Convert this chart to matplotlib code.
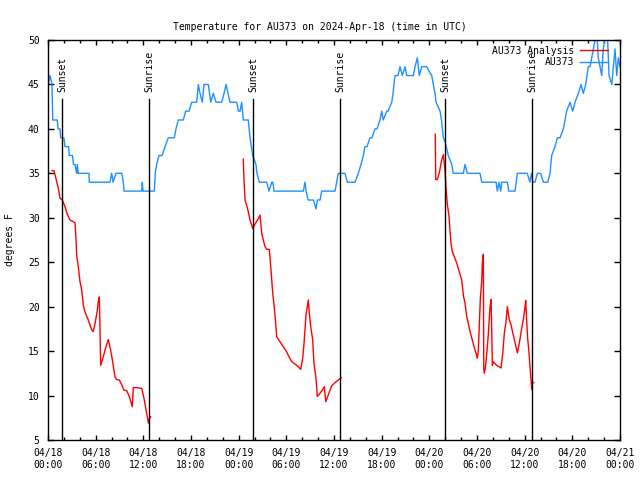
#!/usr/bin/env python3
"""Temperature for AU373 with analysis overlay, gnuplot-like look."""

import matplotlib
matplotlib.use('Agg')
import matplotlib.pyplot as plt
import matplotlib.dates as mdates
import pandas as pd

START = pd.Timestamp('2024-04-18 00:00')
END = pd.Timestamp('2024-04-21 00:00')

# observations (hours after START, degrees F)
obs_hours = [
    0.0, 0.25, 0.5, 0.6, 1.17, 1.26, 1.5, 1.6, 2.0, 2.14, 2.6, 2.68, 3.1, 3.2, 3.4,
    3.6, 3.7, 3.8, 5.16, 5.2, 7.8, 8.02, 8.19, 8.56, 9.3, 9.48, 9.57, 11.8, 11.87,
    11.96, 13.38, 13.5, 13.68, 13.97, 14.35, 14.73, 15.14, 15.9, 16.11, 16.4, 17.03,
    17.33, 17.75, 18.09, 18.72, 18.92, 19.13, 19.42, 19.64, 20.18, 20.48, 20.81,
    21.15, 21.87, 22.16, 22.41, 22.66, 22.91, 23.75, 23.96, 24.17, 24.38, 24.58,
    25.21, 25.43, 25.77, 26.18, 26.3, 26.6, 27.53, 27.82, 28.16, 28.3, 28.45, 32.14,
    32.35, 32.48, 32.73, 33.4, 33.74, 33.9, 34.24, 34.45, 36.13, 36.54, 37.39, 37.68,
    38.65, 39.06, 39.4, 39.69, 39.9, 40.15, 40.53, 40.79, 41.16, 41.41, 41.79, 42.0,
    42.2, 42.64, 42.8, 43.27, 43.43, 43.68, 44.06, 44.31, 44.6, 44.94, 45.15, 45.99,
    46.2, 46.49, 46.74, 47.04, 47.67, 47.96, 48.3, 48.5, 48.72, 48.84, 49.35, 49.53,
    49.76, 49.97, 50.39, 50.82, 51.02, 52.28, 52.49, 52.78, 54.38, 54.6, 56.4, 56.56,
    56.77, 56.99, 57.11, 57.82, 57.99, 58.79, 59.08, 60.33, 60.67, 60.86, 61.05,
    61.3, 61.6, 62.02, 62.35, 62.9, 63.19, 63.4, 63.82, 64.11, 64.45, 64.87, 65.08,
    65.29, 65.71, 66.05, 66.34, 66.76, 67.09, 67.38, 67.69, 68.01, 68.23, 68.44,
    68.65, 68.86, 69.07, 69.27, 69.49, 69.7, 69.9, 70.2, 70.4, 70.62, 70.96, 71.16,
    71.37, 71.59, 71.79, 72.0,
]
obs_temp = [
    45, 46, 45, 41, 41, 40, 40, 39, 39, 38, 38, 37, 37, 36, 36,
    35, 36, 35, 35, 34, 34, 35, 34, 35, 35, 34, 33, 33, 34,
    33, 33, 35, 36, 37, 37, 38, 39, 39, 40, 41, 41,
    42, 42, 43, 43, 45, 44, 43, 45, 45, 43, 44,
    43, 43, 44, 45, 44, 43, 43, 42, 42, 43, 41,
    41, 39, 37, 36, 35, 34, 34, 33, 34, 34, 33, 33,
    34, 33, 32, 32, 31, 32, 32, 33, 33, 35, 35, 34,
    34, 35, 36, 37, 38, 38, 39, 39, 40, 40, 41, 42,
    41, 42, 42, 43, 44, 46, 46, 47, 46, 47, 46, 46,
    47, 48, 46, 47, 47, 46.5, 46, 45, 44, 43, 42, 41,
    39, 38.6, 37, 36, 35, 35, 36, 35, 35, 34, 34, 33,
    34, 33, 34, 34, 33, 33, 35, 35, 34, 35, 34,
    34, 35, 35, 34, 34, 35, 37, 38, 39, 39, 40, 41,
    42, 43, 42, 43, 44, 45, 44, 45, 47, 47, 48,
    49, 50, 51, 48, 47, 46, 49, 51, 51, 46, 45, 47,
    49, 46, 48, 47,
]

# analysis, three night-time pieces
ana1_hours = [
    0.5, 0.76, 1.01, 1.3, 1.51, 1.8, 2.14, 2.43, 2.77, 3.4, 3.52, 3.61, 3.81, 4.03,
    4.24, 4.44, 4.66, 5.07, 5.5, 5.7, 5.92, 6.21, 6.33, 6.46, 6.55, 6.63, 6.96, 7.3,
    7.59, 7.89, 8.14, 8.43, 8.65, 8.98, 9.28, 9.57, 9.91, 10.23, 10.61, 10.74, 11.17,
    11.8, 12.08, 12.34, 12.5, 12.63, 12.75, 12.93,
]
ana1_temp = [
    35.3, 35.3, 34.4, 33.3, 32.2, 32.0, 31.25, 30.4, 29.75, 29.45, 27.7, 25.8, 24.5,
    22.8, 21.9, 20.2, 19.4, 18.5, 17.4, 17.2, 18.1, 19.6, 20.6, 21.1, 17.2, 13.4,
    14.4, 15.5, 16.3, 15.1, 13.8, 12.1, 11.8, 11.75, 11.2, 10.6, 10.55, 9.9, 8.75,
    10.9, 10.9, 10.8, 9.7, 8.4, 7.6, 6.9, 7.4, 7.6,
]
ana2_hours = [
    24.58, 24.67, 24.8, 25.01, 25.21, 25.43, 25.77, 26.06, 26.47, 26.69, 26.9, 27.1,
    27.32, 27.53, 27.86, 28.04, 28.29, 28.45, 28.61, 28.79, 29.2, 29.62, 30.05,
    30.37, 30.68, 31.31, 31.81, 32.06, 32.23, 32.48, 32.64, 32.77, 32.89, 33.07,
    33.32, 33.48, 33.74, 33.9, 34.24, 34.58, 34.78, 34.96, 35.28, 35.71, 36.13,
    36.54, 36.92,
]
ana2_temp = [
    36.6, 34.25, 32.0, 31.4, 30.7, 29.75, 28.8, 29.3, 29.9, 30.3, 28.25, 27.5,
    26.75, 26.45, 26.45, 24.5, 21.5, 20.2, 18.7, 16.6, 16.05, 15.5, 14.9, 14.3,
    13.8, 13.4, 12.95, 14.2, 15.9, 19.1, 20.0, 20.75, 19.25, 17.75, 16.25, 13.6,
    11.9, 9.9, 10.25, 10.7, 11.0, 9.3, 10.06, 11.1, 11.45, 11.75, 12.0,
]
ana3_hours = [
    48.75, 48.8, 49.0, 49.26, 49.56, 49.76, 49.89, 49.97, 50.1, 50.26, 50.48, 50.6,
    50.73, 50.89, 51.15, 51.45, 51.77, 52.08, 52.28, 52.49, 52.71, 52.91, 53.12,
    53.41, 53.63, 53.88, 54.04, 54.17, 54.26, 54.42, 54.6, 54.67, 54.8, 54.85,
    54.92, 55.05, 55.22, 55.43, 55.55, 55.64, 55.77, 55.85, 55.93, 56.05, 56.48,
    57.02, 57.24, 57.44, 57.65, 57.82, 57.94, 58.07, 58.24, 58.57, 58.91, 59.08,
    59.2, 59.42, 59.63, 59.83, 60.05, 60.13, 60.26, 60.38, 60.55, 60.67, 60.8,
    60.89, 60.96, 61.14,
]
ana3_temp = [
    39.4, 34.3, 34.3, 35.1, 36.5, 37.1, 36.1, 35.4, 33.3, 31.6, 30.1, 28.6,
    27.1, 26.2, 25.6, 24.9, 23.9, 23.0, 21.3, 20.4, 18.9, 18.1, 17.2,
    16.25, 15.5, 14.75, 14.2, 15.1, 17.2, 20.9, 23.0, 24.9, 25.9, 13.1,
    12.5, 13.1, 14.6, 17.0, 18.7, 20.0, 20.8, 17.6, 13.4, 13.8, 13.4,
    13.1, 14.75, 17.0, 18.3, 20.0, 19.25, 18.5, 18.1, 16.8, 15.5, 14.8,
    15.3, 16.4, 17.6, 18.5, 20.0, 20.7, 18.3, 16.4, 14.75, 13.25, 11.75,
    10.7, 11.4, 11.45,
]

sun_hours = [1.80, 12.75, 25.84, 36.79, 50.01, 60.96]
sun_labels = ['Sunset', 'Sunrise', 'Sunset', 'Sunrise', 'Sunset', 'Sunrise']


def to_time(hours):
    return [START + pd.Timedelta(hours=h) for h in hours]


FONT = 'DejaVu Sans Mono'
plt.rcParams['font.family'] = FONT
plt.rcParams['font.size'] = 7

fig = plt.figure(figsize=(6.4, 4.8), dpi=100)
ax = fig.add_axes([48 / 640, 40 / 480, 572 / 640, 400 / 480])

ax.plot(to_time(ana1_hours), ana1_temp, color='#ff0000', lw=1.0, label='AU373 Analysis')
ax.plot(to_time(ana2_hours), ana2_temp, color='#ff0000', lw=1.0)
ax.plot(to_time(ana3_hours), ana3_temp, color='#ff0000', lw=1.0)
ax.plot(to_time(obs_hours), obs_temp, color='#1e90ff', lw=1.0, label='AU373')

for h, name in zip(sun_hours, sun_labels):
    t = START + pd.Timedelta(hours=h)
    ax.axvline(t, ymin=0, ymax=0.8525, color='black', lw=1.0)
    ax.text(t, 0.87, name, transform=ax.get_xaxis_transform(), rotation=90,
            ha='center', va='bottom', fontsize=7)

ax.set_xlim(START, END)
ax.set_ylim(5, 50)
ax.set_yticks(range(5, 51, 5))
ax.xaxis.set_major_locator(mdates.HourLocator(byhour=range(0, 24, 6)))
ax.xaxis.set_minor_locator(mdates.HourLocator(byhour=range(0, 24, 2)))
ax.xaxis.set_major_formatter(mdates.DateFormatter('%m/%d\n%H:%M'))
ax.tick_params(which='both', direction='in', top=True, right=True, width=1.0)
ax.tick_params(which='major', length=3.5, pad=6)
ax.tick_params(which='minor', length=2.5)
ax.tick_params(axis='y', length=4, pad=6)
for spine in ax.spines.values():
    spine.set_linewidth(1.0)

ax.set_ylabel('degrees F')
ax.yaxis.set_label_coords(-33 / 572, 0.5)
fig.suptitle('Temperature for AU373 on 2024-Apr-18 (time in UTC)', y=0.955, fontsize=7)

leg = ax.legend(loc='upper right', bbox_to_anchor=(1 - 3 / 572, 1 + 3 / 400),
                frameon=False, markerfirst=False, handlelength=2.9,
                handletextpad=0.6, borderaxespad=0.6, borderpad=0.3,
                labelspacing=0.15, fontsize=7)
for text in leg.get_texts():
    text.set_ha('right')

fig.savefig('out.png', dpi=100)
